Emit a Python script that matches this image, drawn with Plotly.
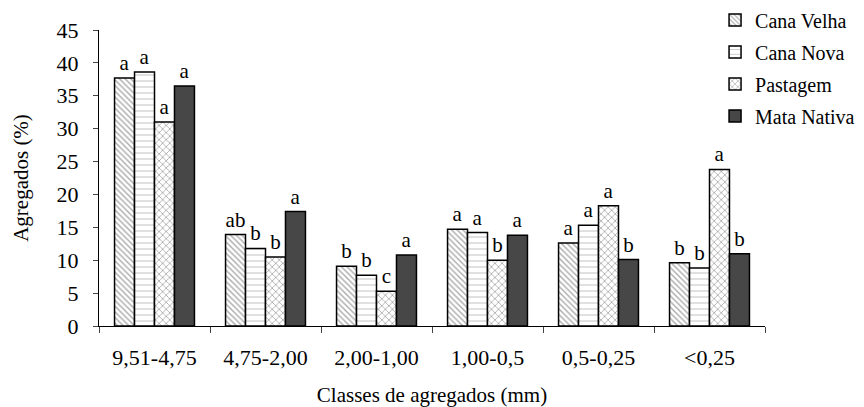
import plotly.graph_objects as go

categories = ["9,51-4,75", "4,75-2,00", "2,00-1,00", "1,00-0,5", "0,5-0,25", "<0,25"]
series_names = ["Cana Velha", "Cana Nova", "Pastagem", "Mata Nativa"]
cana_velha = [37.7, 13.9, 9.1, 14.7, 12.6, 9.6]
cana_nova = [38.6, 11.8, 7.7, 14.2, 15.3, 8.8]
pastagem = [31.0, 10.5, 5.3, 10.0, 18.3, 23.8]
mata_nativa = [36.5, 17.4, 10.8, 13.8, 10.1, 11.0]
letters_cv = ["a", "ab", "b", "a", "a", "b"]
letters_cn = ["a", "b", "b", "a", "a", "b"]
letters_pa = ["a", "b", "c", "b", "a", "a"]
letters_mn = ["a", "a", "a", "a", "b", "b"]

values = [cana_velha, cana_nova, pastagem, mata_nativa]
letters = [letters_cv, letters_cn, letters_pa, letters_mn]
styles = [
    dict(color="white", pattern=dict(shape="\\", fgcolor="#555555", bgcolor="white", size=4, solidity=0.35)),
    dict(color="white", pattern=dict(shape="-", fgcolor="#777777", bgcolor="white", size=6, solidity=0.15)),
    dict(color="white", pattern=dict(shape="x", fgcolor="#555555", bgcolor="white", size=5, solidity=0.3)),
    dict(color="#474747"),
]

font = "Liberation Serif, Times New Roman, serif"
fig = go.Figure()
for i, name in enumerate(series_names):
    fig.add_trace(go.Bar(
        x=categories, y=values[i], name=name, legendgroup=name,
        text=letters[i], textposition="outside", constraintext="none",
        textfont=dict(family=font, size=21, color="black"),
        cliponaxis=False,
        marker=dict(line=dict(color="black", width=1.5), **styles[i]),
    ))

fig.update_layout(
    width=856, height=399,
    margin=dict(l=91, r=99, t=22, b=81, autoexpand=False),
    paper_bgcolor="white", plot_bgcolor="white",
    barmode="group", bargap=0.28, bargroupgap=0.0,
    font=dict(family=font, size=21, color="black"),
    legend=dict(x=0.925, y=1.10, xanchor="left", yanchor="top",
                font=dict(family=font, size=20), tracegroupgap=3,
                itemwidth=30, bgcolor="rgba(0,0,0,0)"),
    showlegend=True,
)
fig.update_yaxes(range=[0, 45], dtick=5, ticks="outside", ticklen=5,
                 showline=True, linecolor="black", linewidth=1, showgrid=False,
                 zeroline=False, ticklabelstandoff=10,
                 tickfont=dict(family=font, size=22),
                 title=dict(text="Agregados (%)", font=dict(family=font, size=21), standoff=22))
fig.update_xaxes(showline=True, linecolor="black", linewidth=1, ticks="outside",
                 ticklen=6, tickson="boundaries", showgrid=False,
                 ticklabelstandoff=12,
                 tickfont=dict(family=font, size=22),
                 title=dict(text="Classes de agregados (mm)", font=dict(family=font, size=21), standoff=17))

fig.write_html("out.html")
